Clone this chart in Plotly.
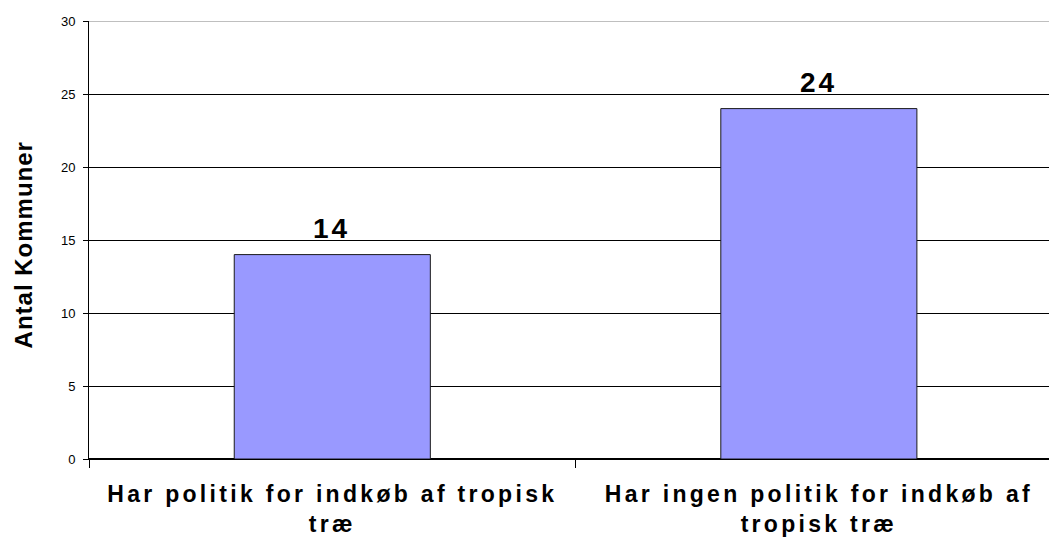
import plotly.graph_objects as go

categories = ["Har politik for indkøb af tropisk<br>træ", "Har ingen politik for indkøb af<br>tropisk træ"]
values = [14, 24]
y_ticks = [0, 5, 10, 15, 20, 25, 30]
y_title = "Antal Kommuner"

FONT = "Liberation Sans, Arial, sans-serif"

fig = go.Figure()
fig.add_trace(go.Bar(
    x=categories, y=values, width=0.403,
    marker=dict(color="#9999FF", line=dict(color="#1a1a1a", width=1)),
    hoverinfo="skip",
))

annotations = [
    dict(x=c, y=v, xref="x", yref="y", text=f"<b>{v}</b>", showarrow=False,
         xanchor="center", yanchor="bottom", yshift=9,
         font=dict(family=FONT, size=28, color="black"))
    for c, v in zip(categories, values)
]
annotations.append(dict(
    x=-0.0678, y=0.4897, xref="paper", yref="paper", text=f"<b>{y_title}</b>",
    showarrow=False, textangle=-90, xanchor="center", yanchor="middle",
    font=dict(family=FONT, size=24, color="black")))

fig.update_layout(
    width=1049, height=540,
    margin=dict(l=89, r=0, t=21, b=81, pad=0),
    paper_bgcolor="white", plot_bgcolor="white",
    showlegend=False,
    font=dict(family=FONT, color="black"),
    xaxis=dict(
        type="category", range=[-0.5, 1.473], automargin=False,
        tickvals=categories, ticktext=[f"<b>{c}</b>" for c in categories],
        tickson="boundaries", ticks="outside", ticklen=8, tickcolor="black",
        tickfont=dict(family=FONT, size=23, color="black"),
        ticklabelstandoff=14,
        showline=True, linecolor="black", linewidth=1, showgrid=False,
    ),
    yaxis=dict(
        range=[0, 30], tickvals=y_ticks, ticks="outside", ticklen=5, tickcolor="black",
        automargin=False,
        tickfont=dict(family=FONT, size=13, color="black"),
        ticklabelstandoff=5,
        showline=True, linecolor="black", linewidth=1,
        showgrid=True, gridcolor="black", gridwidth=1,
        zeroline=True, zerolinecolor="black",
    ),
    annotations=annotations,
    shapes=[dict(type="line", xref="paper", yref="y", x0=0, x1=1, y0=30, y1=30,
                 line=dict(color="#808080", width=1))],
)

post = """
document.body.style.margin = '0';
document.body.style.overflow = 'hidden';
var gd = document.getElementById('{plot_id}');
function spacing() {
  gd.querySelectorAll('.xtick text').forEach(function(t){ t.style.letterSpacing = '3.3px'; });
  gd.querySelectorAll('.annotation-text').forEach(function(t){
    var s = t.textContent;
    t.style.letterSpacing = (/^[0-9]+$/.test(s)) ? '3px' : '1px';
  });
}
spacing();
gd.on('plotly_afterplot', spacing);
"""

fig.write_html("out.html", post_script=post, config={"displayModeBar": False, "staticPlot": True})
